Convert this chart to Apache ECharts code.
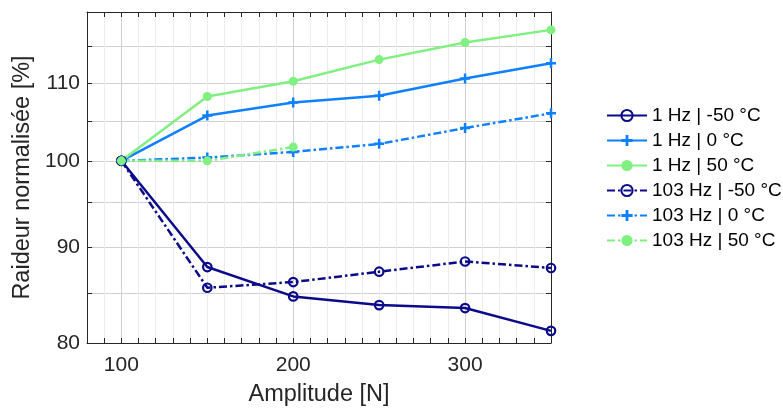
<!DOCTYPE html>
<html>
<head>
<meta charset="utf-8">
<script src="https://cdn.jsdelivr.net/npm/echarts@6/dist/echarts.min.js"></script>
<style>
html,body{margin:0;padding:0;background:#fff;}
#chart{width:783px;height:412px;}
</style>
</head>
<body>
<div id="chart"></div>
<script>
// ---- data ----
var amplitudes = [100, 150, 200, 250, 300, 350];
var hz1_m50 = [100, 87.8, 84.7, 83.8, 83.5, 81.2];
var hz1_0 = [100, 105.7, 107.4, 108.3, 110.6, 112.7];
var hz1_50 = [100, 108.2, 110.25, 113.2, 115.6, 117.4];
var hz103_m50 = [100, 85.6, 86.2, 87.3, 88.4, 87.7];
var hz103_0 = [100, 100.4, 101.1, 102.1, 104.1, 106.0];
var hz103_50 = [100, 100.0, 101.7];
var seriesNames = ['1 Hz | -50 °C', '1 Hz | 0 °C', '1 Hz | 50 °C', '103 Hz | -50 °C', '103 Hz | 0 °C', '103 Hz | 50 °C'];
var xTickLabels = [100, 200, 300];
var xMinorTicks = [80, 90, 100, 110, 120, 130, 140, 150, 160, 170, 180, 190, 200, 210, 220, 230, 240, 250, 260, 270, 280, 290, 300, 310, 320, 330, 340, 350];
var yTickLabels = [80, 90, 100, 110];
var yTicks = [80, 85, 90, 95, 100, 105, 110, 115, 120];

function pairs(xs, ys) { return ys.map(function (v, i) { return [xs[i], v]; }); }

var NAVY = '#0b0b8a', BLUE = '#0f80ff', GREEN = '#80f080';
var AXIS = '#262626';
var FONT = 'Liberation Sans';
var PLUS = 'path://M3.75,0 H6.25 V3.75 H10 V6.25 H6.25 V10 H3.75 V6.25 H0 V3.75 H3.75 Z';
var DASHDOT = [8, 3, 2.5, 3];

function mk(name, data, color, symbol, dashed) {
  var s = {
    name: name, type: 'line', xAxisIndex: 0, yAxisIndex: 0,
    data: pairs(amplitudes, data),
    color: color,
    symbol: symbol === '+' ? PLUS : 'circle',
    symbolSize: symbol === 'o' ? 8.5 : (symbol === '+' ? 10 : 9),
    lineStyle: { color: color, width: 2.5, type: dashed ? DASHDOT : 'solid' },
    itemStyle: symbol === 'o' ? { color: 'rgba(255,255,255,0)', borderColor: color, borderWidth: 2.2 } : { color: color, borderWidth: 0 },
    emphasis: { disabled: true },
    animation: false,
    z: 3
  };
  return s;
}

var chart = echarts.init(document.getElementById('chart'), null, { renderer: 'canvas' });
var grid = { left: 87, right: 232, top: 12, bottom: 68 };
var option = {
  backgroundColor: '#ffffff',
  animation: false,
  textStyle: { fontFamily: FONT },
  grid: grid,
  legend: {
    orient: 'vertical', left: 601, top: 101,
    itemWidth: 40, itemHeight: 14, itemGap: 6,
    textStyle: { fontFamily: FONT, fontSize: 19, color: '#000' },
    data: seriesNames
  },
  xAxis: [
    {
      type: 'value', position: 'bottom', min: 80, max: 350,
      name: 'Amplitude [N]', nameLocation: 'middle', nameGap: 40,
      nameTextStyle: { fontFamily: FONT, fontSize: 23.5, color: AXIS },
      axisLine: { show: true, onZero: false, lineStyle: { color: AXIS, width: 1 } },
      axisTick: { show: true, inside: true, length: 5, customValues: xMinorTicks, lineStyle: { color: AXIS } },
      axisLabel: { show: true, customValues: xTickLabels, fontFamily: FONT, fontSize: 21, color: AXIS, margin: 12 },
      splitLine: { show: true, lineStyle: { color: '#ececec', width: 1 } }
    },
    {
      type: 'value', position: 'top', min: 80, max: 350,
      axisLine: { show: true, onZero: false, lineStyle: { color: AXIS, width: 1 } },
      axisTick: { show: true, inside: true, length: 5, customValues: xMinorTicks, lineStyle: { color: AXIS } },
      axisLabel: { show: false },
      splitLine: { show: false }
    },
    {
      type: 'value', position: 'bottom', min: 80, max: 350,
      axisLine: { show: false },
      axisTick: { show: false, customValues: xTickLabels },
      axisLabel: { show: false },
      splitLine: { show: true, lineStyle: { color: '#d0d0d0', width: 1 } }
    }
  ],
  yAxis: [
    {
      type: 'log', logBase: 10, position: 'left', min: 80, max: 120,
      name: 'Raideur normalisée [%]', nameLocation: 'middle', nameGap: 47,
      nameTextStyle: { fontFamily: FONT, fontSize: 23.5, color: AXIS },
      axisLine: { show: true, onZero: false, lineStyle: { color: AXIS, width: 1 } },
      axisTick: { show: true, inside: true, length: 5, customValues: yTicks, lineStyle: { color: AXIS } },
      axisLabel: { show: true, customValues: yTickLabels, fontFamily: FONT, fontSize: 21, color: AXIS, margin: 7 },
      splitLine: { show: true, lineStyle: { color: '#d0d0d0', width: 1 } }
    },
    {
      type: 'log', logBase: 10, position: 'right', min: 80, max: 120,
      axisLine: { show: true, onZero: false, lineStyle: { color: AXIS, width: 1 } },
      axisTick: { show: true, inside: true, length: 5, customValues: yTicks, lineStyle: { color: AXIS } },
      axisLabel: { show: false },
      splitLine: { show: false }
    }
  ],
  series: [
    mk(seriesNames[0], hz1_m50, NAVY, 'o', false),
    mk(seriesNames[1], hz1_0, BLUE, '+', false),
    mk(seriesNames[2], hz1_50, GREEN, '.', false),
    mk(seriesNames[3], hz103_m50, NAVY, 'o', true),
    mk(seriesNames[4], hz103_0, BLUE, '+', true),
    mk(seriesNames[5], hz103_50, GREEN, '.', true)
  ]
};
chart.setOption(option);
</script>
</body>
</html>
